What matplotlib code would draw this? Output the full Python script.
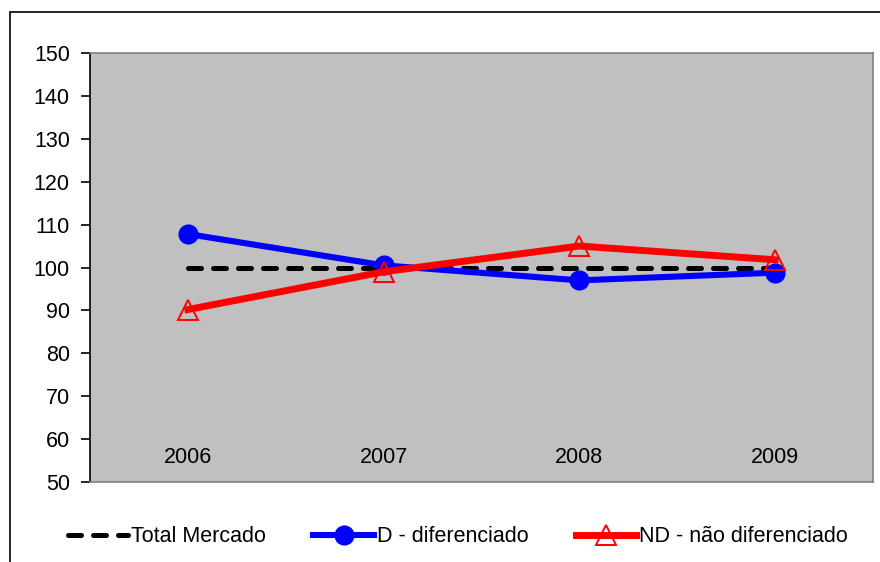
import matplotlib
matplotlib.use("Agg")
import matplotlib.pyplot as plt
from matplotlib.patches import Rectangle

plt.rcParams['font.family'] = ['Liberation Sans', 'DejaVu Sans']

years = ["2006", "2007", "2008", "2009"]
total_mercado = [100, 100, 100, 100]
d_diferenciado = [107.8, 100.5, 97.0, 98.8]
nd_nao_diferenciado = [90.2, 99.0, 105.0, 101.8]
y_ticks = [50, 60, 70, 80, 90, 100, 110, 120, 130, 140, 150]

FS = 15.5

fig = plt.figure(figsize=(8.8, 5.62), dpi=100)
fig.patch.set_facecolor('white')

# outer chart frame (extends past the right and bottom edges)
fig.add_artist(Rectangle((10 / 880, -0.05), 1.2, 1 - 12 / 562 + 0.05,
                         transform=fig.transFigure, fill=False,
                         edgecolor='black', linewidth=1.2))

ax = fig.add_axes([90 / 880, 80 / 562, 783 / 880, 429 / 562])
ax.set_facecolor('#C0C0C0')

x = list(range(len(years)))
ax.plot(x, total_mercado, color='black', linewidth=3.6, linestyle=(0, (2.6, 2.4)),
        dash_capstyle='round', zorder=2, label='Total Mercado')
ax.plot(x, d_diferenciado, color='#0000FF', linewidth=4.4, marker='o', markersize=13.5,
        markerfacecolor='#0000FF', markeredgecolor='#0000FF', zorder=3,
        label='D - diferenciado')
ax.plot(x, nd_nao_diferenciado, color='#FF0000', linewidth=5.0, marker='^', markersize=14,
        markerfacecolor='none', markeredgecolor='#FF0000', markeredgewidth=1.4, zorder=4,
        label='ND - não diferenciado')

ax.set_xlim(-0.5, len(years) - 0.5)
ax.set_ylim(50, 150)
ax.set_yticks(y_ticks)
ax.tick_params(axis='y', direction='out', length=6.5, width=1.2, pad=8, labelsize=FS)
ax.set_xticks([])

for i, yr in enumerate(years):
    ax.text(i, 55.6, yr, ha='center', va='center', fontsize=FS)

for side in ['top', 'right', 'bottom']:
    ax.spines[side].set_color('#808080')
    ax.spines[side].set_linewidth(1.2)
ax.spines['left'].set_color('black')
ax.spines['left'].set_linewidth(1.2)

fig.legend(loc='center', bbox_to_anchor=(458 / 880, 1 - 537 / 562), ncol=3,
           frameon=False, fontsize=FS, handlelength=2.8, handletextpad=0.15,
           columnspacing=2.2)

fig.savefig('out.png', dpi=100)
